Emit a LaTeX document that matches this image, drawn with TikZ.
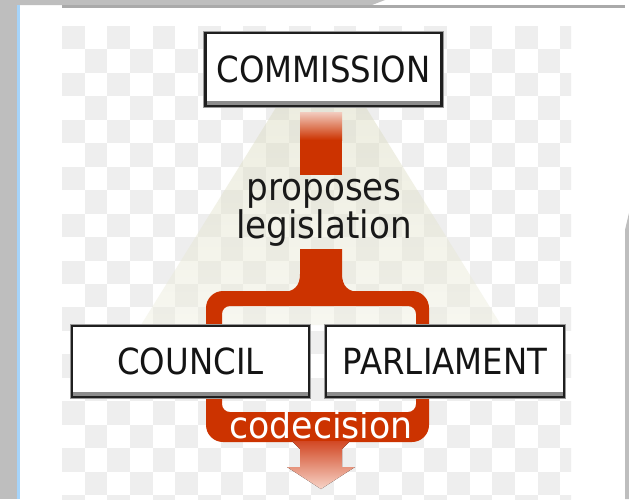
\documentclass[tikz,border=0pt]{standalone}
\usepackage{fontspec}
\setmainfont{DejaVu Sans}
\newfontfamily\boxfont[FakeStretch=0.9]{DejaVu Sans}
\newfontfamily\labfont[FakeStretch=0.9]{DejaVu Sans}
\newfontfamily\codfont[FakeStretch=0.94]{DejaVu Sans}
\definecolor{eured}{RGB}{204,51,0}
\definecolor{framegray}{RGB}{190,190,190}
\definecolor{frameline}{RGB}{170,170,170}
\definecolor{bluel}{RGB}{166,212,250}
\definecolor{chk}{RGB}{238,238,238}
\definecolor{beigeA}{RGB}{234,234,219}
\definecolor{beigeB}{RGB}{247,247,240}
\definecolor{arrowA}{RGB}{210,72,36}
\definecolor{arrowB}{RGB}{247,212,200}
\tikzset{
  cbox/.style={draw=black!88, line width=2.4pt, fill=white, inner sep=0pt,
    text=black!92, font=\boxfont\fontsize{36}{40}\selectfont,
    preaction={draw=black!40, line width=4.6pt},
    path picture={\fill[black!45] (path picture bounding box.south west) rectangle ([yshift=5pt]path picture bounding box.south east);}},
  lab/.style={inner sep=0pt, text=black!90, align=center,
    font=\labfont\fontsize{38}{35}\selectfont},
  codec/.style={inner sep=0pt, text=white, font=\codfont\fontsize{37}{42}\selectfont}
}
\newcommand\checkers[1]{%
  \foreach \i in {0,...,22}{
    \foreach \j in {0,...,20}{
      \pgfmathtruncatemacro\chkp{mod(\i+\j,2)}
      \ifnum\chkp=0
        \fill[#1] ({62+\i*22.65},{26+\j*23.45}) rectangle ++(22.65,23.45);
      \fi
    }
  }}
\begin{document}
\begin{tikzpicture}[x=1pt,y=-1pt]
\useasboundingbox (0,0) rectangle (629,499);
\fill[white] (0,0) rectangle (629,499);
% window frame
\fill[framegray] (0,0) rectangle (17,499);
\fill[framegray] (17,0) -- (385,0) -- (372,5) -- (17,5) -- cycle;
\fill[bluel] (17,5) rectangle (20,499);
\fill[frameline] (62,5) rectangle (625,7.7);
\fill[framegray] (625,230) -- (629,213) -- (629,499) -- (625,499) -- cycle;
% checkerboard
\begin{scope}
\clip (62,26) rectangle (571,499);
\checkers{chk}
\end{scope}
% beige fan
\shade[top color=beigeA, bottom color=beigeB] (321,35) -- (141,325) -- (501,325) -- cycle;
\begin{scope}
\clip (321,35) -- (141,325) -- (501,325) -- cycle;
\checkers{black, fill opacity=0.035}
\end{scope}
% upper stem
\fill[top color=eured!25, bottom color=eured] (300,112) rectangle (342,140);
\fill[eured] (300,139.5) rectangle (342,175);
% lower stem with flare
\fill[eured] (300,249) -- (300,274) .. controls (300,286) and (294,292) .. (282,292)
  -- (360,292) .. controls (348,292) and (342,286) .. (342,274) -- (342,249) -- cycle;
% codecision loop
\fill[eured, even odd rule] [rounded corners=17] (206,291) rectangle (429,442)
  [rounded corners=8] (222,306) rectangle (416,412);
% output arrow
\fill[top color=arrowA, bottom color=arrowB] (292,441) -- (350,441) -- (342,449) -- (342,467)
  -- (355,467) -- (321,489) -- (287,467) -- (300,467) -- (300,449) -- cycle;
% boxes
\node[cbox, minimum width=236pt, minimum height=73pt] (commission) at (323.5,69.5) {COMMISSION};
\node[cbox, minimum width=237pt, minimum height=71pt] (council) at (190.5,361.5) {COUNCIL};
\node[cbox, minimum width=238pt, minimum height=71pt] (parliament) at (445,361.5) {PARLIAMENT};
% labels
\node[lab, anchor=base] (proposes) at (324,238) {proposes\\legislation};
\node[codec, anchor=base] (codecision) at (321,438) {codecision};
\end{tikzpicture}
\end{document}
